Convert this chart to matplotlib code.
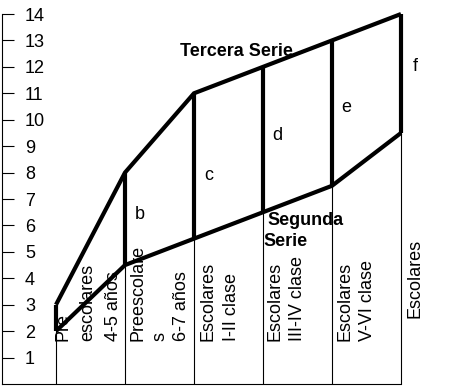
import matplotlib.pyplot as plt

plt.rcParams['font.family'] = ['Liberation Sans', 'DejaVu Sans']
plt.rcParams['font.size'] = 13

# boundaries of the series at each stage border
stages = [0, 1, 2, 3, 4, 5]
upper = [3, 8, 11, 12, 13, 14]      # tercera serie
lower = [2, 4.5, 5.5, 6.5, 7.5, 9.5]  # segunda serie
yticks = list(range(1, 15))

zone_letters = ['b', 'c', 'd', 'e', 'f']
letter_y = [6.4, 7.9, 9.4, 10.45, 12.0]

stage_labels = [
    ['Pre', 'escolares', '4-5 años'],
    ['Preescolare', 's', '6-7 años'],
    ['Escolares', 'I-II clase'],
    ['Escolares', 'III-IV clase'],
    ['Escolares', 'V-VI clase'],
    ['Escolares'],
]

fig = plt.figure(figsize=(4.57, 3.86), dpi=100)
ax = fig.add_axes([2 / 457, 2 / 386, 455 / 457, 384 / 386])
ax.set_xlim(-54 / 69, 401 / 69)
ax.set_ylim(0, 14.53)

thick = dict(color='black', lw=3, solid_joinstyle='miter', solid_capstyle='butt')

# thin column dividers below the lower line
for x, lo in zip(stages, lower):
    ax.plot([x, x], [0, lo], color='black', lw=0.8)

# outline of the band + inner dividers
ax.plot(stages, upper, **thick)
ax.plot(stages, lower, **thick)
for x, lo, hi in zip(stages, lower, upper):
    ax.plot([x, x], [lo, hi], **thick)

for i, (letter, ly) in enumerate(zip(zone_letters, letter_y)):
    ax.text(stages[i + 1] + 0.21, ly, letter, ha='center', va='center')

ax.text(2.62, 12.6, 'Tercera Serie', fontweight='bold', ha='center', va='center')
ax.text(3.07, 6.2, 'Segunda', fontweight='bold', ha='left', va='center')
ax.text(3.0, 5.38, 'Serie', fontweight='bold', ha='left', va='center')

# rotated stage names inside each column
offsets = [[7, 32, 57], [13, 35, 57], [14, 38], [12, 34], [13, 35], [14]]
for i, lines in enumerate(stage_labels):
    y0 = 2.5 if i == 5 else 1.63
    for line, off in zip(lines, offsets[i]):
        ax.text(stages[i] + off / 69, y0, line, rotation=90, ha='center', va='bottom')

ax.set_yticks(yticks)
ax.set_xticks([])
ax.tick_params(axis='y', direction='in', length=8.6, width=0.8, pad=-16.5)
for lbl in ax.get_yticklabels():
    lbl.set_horizontalalignment('left')
ax.spines['top'].set_visible(False)
ax.spines['right'].set_visible(False)
ax.spines['left'].set_bounds(0, 14)
ax.spines['bottom'].set_bounds(-54 / 69, 5)
for s in ('left', 'bottom'):
    ax.spines[s].set_linewidth(0.8)

fig.savefig('out.png', dpi=100)
